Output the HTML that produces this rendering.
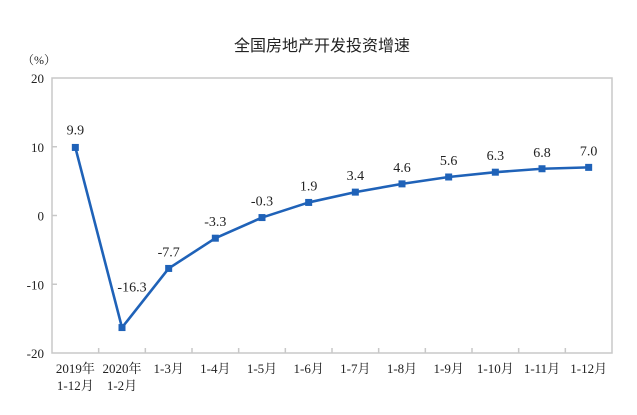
<!DOCTYPE html>
<html><head><meta charset="utf-8"><style>
body{margin:0;background:#fff;}
svg text{font-family:"Liberation Serif","Noto Serif CJK SC",serif;fill:#222;}
</style></head><body>
<svg width="637" height="410">
<text x="322" y="51" text-anchor="middle" font-size="16" style="font-family:'Noto Sans CJK SC',sans-serif">全国房地产开发投资增速</text>
<text x="22" y="64" font-size="12">（%）</text>
<g id="plot"></g>
</svg>
<script>
const categories=[["2019年","1-12月"],["2020年","1-2月"],["1-3月"],["1-4月"],["1-5月"],["1-6月"],["1-7月"],["1-8月"],["1-9月"],["1-10月"],["1-11月"],["1-12月"]];
const values=[9.9,-16.3,-7.7,-3.3,-0.3,1.9,3.4,4.6,5.6,6.3,6.8,7.0];
const yTicks=[20,10,0,-10,-20];
const L=52,R=612,T=78,B=353,ymin=-20,ymax=20;
const NS="http://www.w3.org/2000/svg";
const g=document.getElementById('plot');
const bw=(R-L)/categories.length;
const xs=i=>L+bw*(i+0.5);
const ys=v=>B-(v-ymin)/(ymax-ymin)*(B-T);
function mk(t,a,p){const e=document.createElementNS(NS,t);for(const k in a)e.setAttribute(k,a[k]);(p||g).appendChild(e);return e;}
const frame=mk('rect',{x:L,y:T,width:R-L,height:B-T,fill:'none',stroke:'#c8c8c8','stroke-width':1.5});


yTicks.forEach(v=>{
 const t=mk('text',{x:L-8,y:ys(v)+5,'text-anchor':'end','font-size':13});t.textContent=v;
 
 
 if(v>ymin&&v<ymax){const tk=mk('line',{x1:L,x2:L+5,y1:ys(v),y2:ys(v),stroke:'#c8c8c8','stroke-width':1.5});
 
 }
});
for(let i=1;i<categories.length;i++){
 const tk=mk('line',{x1:L+bw*i,x2:L+bw*i,y1:B,y2:B-5,stroke:'#c8c8c8','stroke-width':1.5});
 
 
}
categories.forEach((c,i)=>{
 c.forEach((s,j)=>{const t=mk('text',{x:xs(i),y:B+20+j*17,'text-anchor':'middle','font-size':13});t.textContent=s;
 
 });
});
const line=mk('polyline',{points:values.map((v,i)=>xs(i)+','+ys(v)).join(' '),fill:'none',stroke:'#1f62b8','stroke-width':2.6,'stroke-linejoin':'round'});


values.forEach((v,i)=>{
 const p=mk('rect',{x:xs(i)-3.5,y:ys(v)-3.5,width:7,height:7,fill:'#1f62b8'});
 
 
 let lx=xs(i),ly=ys(v)-12;
 if(i===1){lx=xs(i)+10;ly=ys(v)-36;}
 if(i===0){ly=ys(v)-13;}
 const t=mk('text',{x:lx,y:ly,'text-anchor':'middle','font-size':14});t.textContent=v.toFixed(1);
 
 
});
</script>
</body></html>
